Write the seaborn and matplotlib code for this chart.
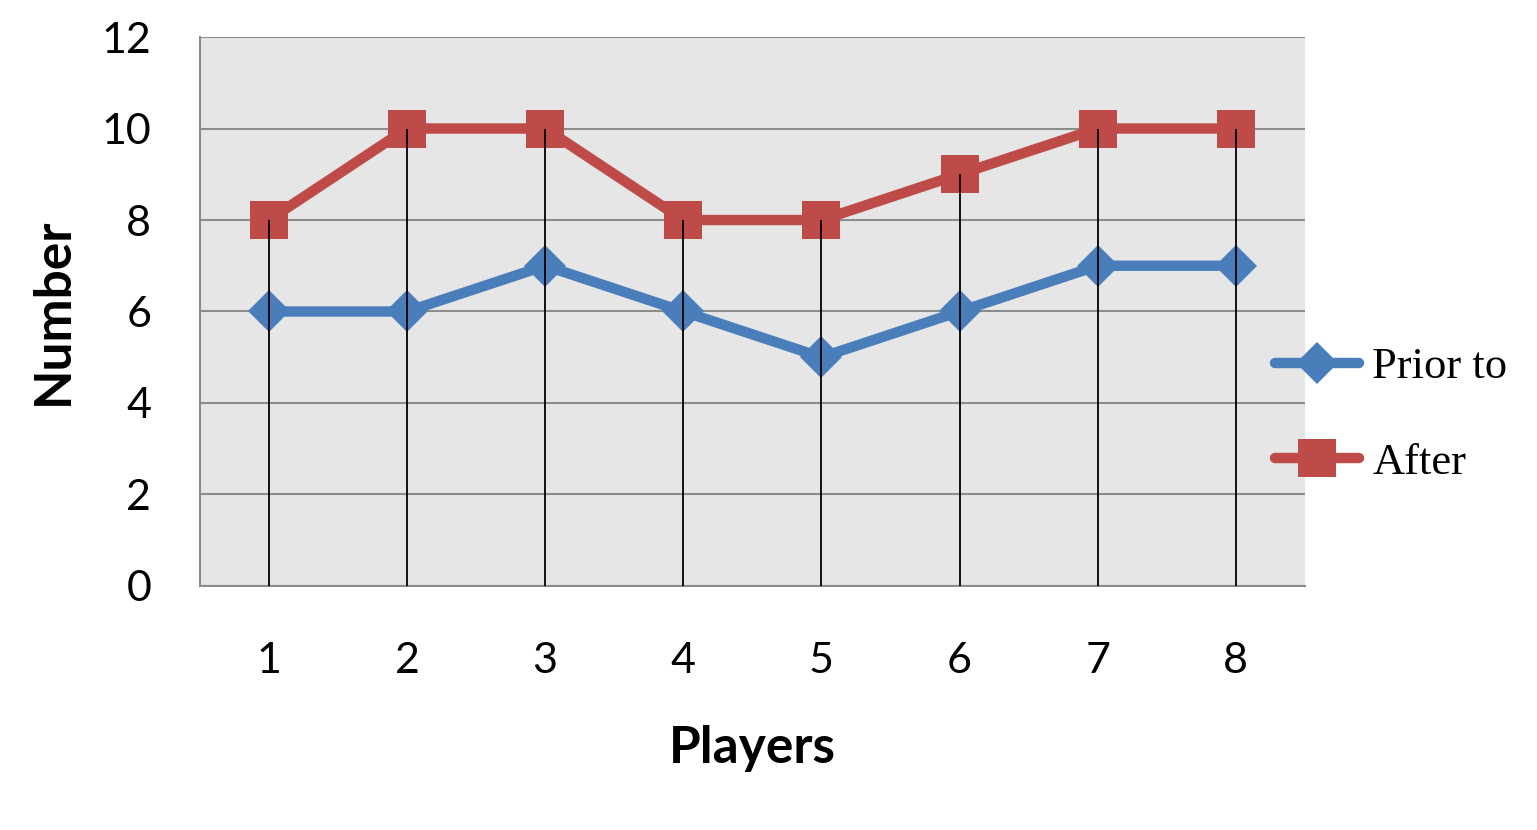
import matplotlib
matplotlib.use("Agg")
import matplotlib.pyplot as plt
import seaborn as sns
import pandas as pd
import numpy as np

# --- data ---
players = [1, 2, 3, 4, 5, 6, 7, 8]
prior_to = [6, 6, 7, 6, 5, 6, 7, 7]
after = [8, 10, 10, 8, 8, 9, 10, 10]
series_names = ["Prior to", "After"]

df = pd.DataFrame({
    "Players": players * 2,
    "Number": prior_to + after,
    "series": [series_names[0]] * len(players) + [series_names[1]] * len(players),
})

sns.set_theme(style="white")
plt.rcParams['font.family'] = ['Lato', 'DejaVu Sans']
plt.rcParams['text.color'] = 'black'
plt.rcParams['axes.labelcolor'] = 'black'
plt.rcParams['xtick.labelcolor'] = 'black'
plt.rcParams['ytick.labelcolor'] = 'black'

fig = plt.figure(figsize=(15.37, 8.30), dpi=100)
ax = fig.add_axes([0.130, 0.294, 0.719, 0.6614])
ax.set_facecolor("#E6E6E6")

colors = {"Prior to": "#4A7EBB", "After": "#BE4B48"}
sns.lineplot(data=df, x="Players", y="Number", hue="series", style="series",
             markers={"Prior to": "D", "After": "s"}, dashes=False,
             palette=colors, linewidth=7.5, markeredgewidth=0,
             ax=ax, zorder=3)
# marker sizes differ per series
for line in ax.lines:
    if line.get_marker() == "s":
        line.set_markersize(28)
    elif line.get_marker() == "D":
        line.set_markersize(21)

# drop lines from zero to the top series value
top = np.maximum(prior_to, after)
ax.vlines(players, 0, top, colors="black", linewidth=1.3, zorder=4)

ax.set_xlim(0.5, 8.5)
ax.set_ylim(0, 12)
ax.set_yticks(range(0, 13, 2))
ax.set_xticks(players)
ax.yaxis.grid(True, color="#8C8C8C", linewidth=1.5)
ax.set_axisbelow(True)
for side in ["top", "right"]:
    ax.spines[side].set_visible(False)
for side in ["left", "bottom"]:
    ax.spines[side].set_color("#8C8C8C")
    ax.spines[side].set_linewidth(1.5)

ax.tick_params(axis="y", direction="out", length=11, width=1.5, color="#8C8C8C",
               pad=24, labelsize=31)
ax.tick_params(axis="x", length=0, pad=40, labelsize=31)

ax.set_xlabel("Players", fontsize=37, fontweight="bold", labelpad=33)
ax.set_ylabel("Number", fontsize=37, fontweight="bold", labelpad=18)

handles, labels = ax.get_legend_handles_labels()
ax.get_legend().remove()
for h in handles:
    if h.get_marker() == "s":
        h.set_markersize(28)
    elif h.get_marker() == "D":
        h.set_markersize(21)
fig.legend(handles, labels, loc="center left", bbox_to_anchor=(0.809, 0.5),
           frameon=False, prop={"family": "Liberation Serif", "size": 32},
           handlelength=1.9, labelspacing=1.25, handletextpad=0.3,
           borderpad=0.2)

fig.savefig("out.png", dpi=100)
